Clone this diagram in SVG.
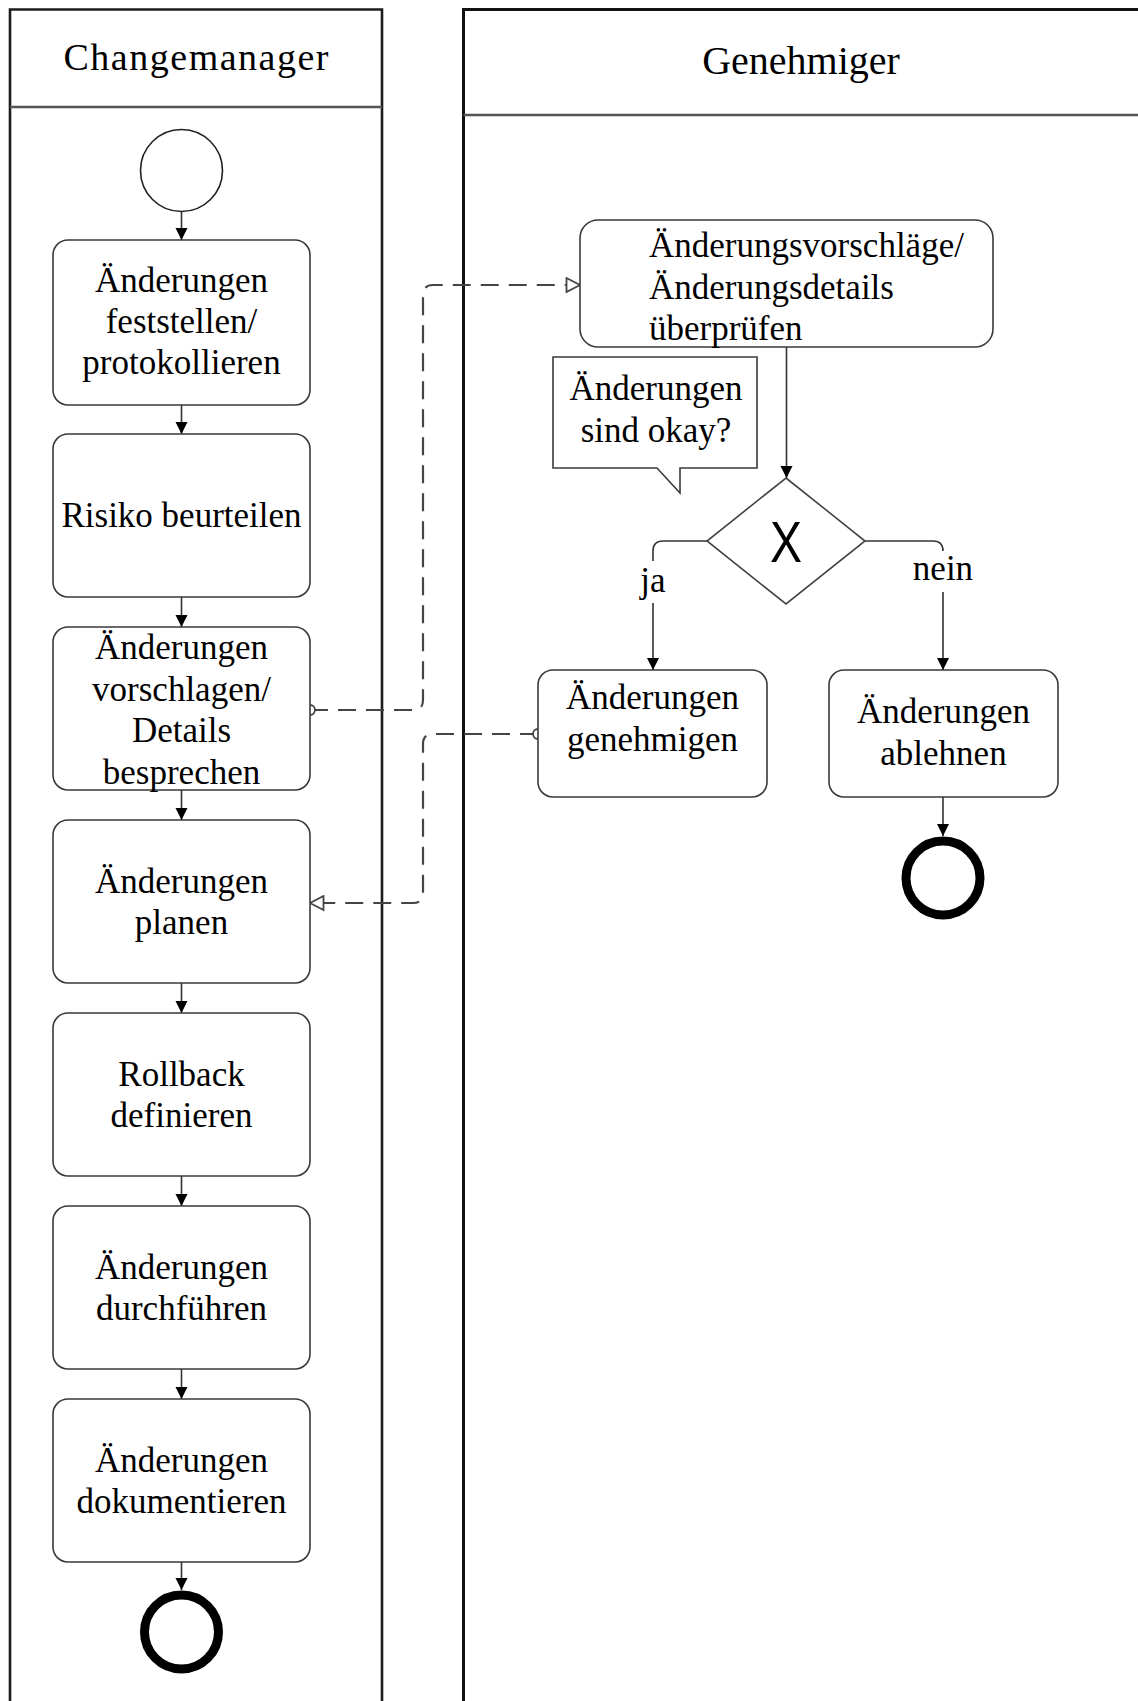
<svg xmlns="http://www.w3.org/2000/svg" width="1138" height="1701" viewBox="0 0 1138 1701">
  <defs>
    <style>
      .lane { fill: none; stroke: #1c1c1c; stroke-width: 2.6; }
      .lane-head { fill: none; stroke: #555; stroke-width: 2.6; }
      .task { fill: #fff; stroke: #3a3a3a; stroke-width: 1.6; }
      .note { fill: #fff; stroke: #3a3a3a; stroke-width: 1.6; }
      .gate { fill: #fff; stroke: #444; stroke-width: 1.6; }
      .start { fill: #fff; stroke: #222; stroke-width: 1.6; }
      .end { fill: #fff; stroke: #000; stroke-width: 9; }
      .flow { fill: none; stroke: #333; stroke-width: 1.6; marker-end: url(#arrow); }
      .msg { fill: none; stroke: #444; stroke-width: 2.2; stroke-dasharray: 18 10; marker-start: url(#msg-start); marker-end: url(#msg-end); }
      text { font-family: "Liberation Serif", "Times New Roman", serif; fill: #000; }
      .t { font-size: 35px; text-anchor: middle; }
      .tl { font-size: 35px; text-anchor: start; }
      .title { font-size: 38px; text-anchor: middle; }
      .gx { font-family: "Liberation Sans", Arial, sans-serif; font-size: 58px; text-anchor: middle; fill: #000; }
    </style>
    <marker id="arrow" markerUnits="userSpaceOnUse" markerWidth="13" markerHeight="13" refX="12" refY="6.5" orient="auto">
      <path d="M0,0.5 L12,6.5 L0,12.5 z" fill="#000"/>
    </marker>
    <marker id="msg-end" markerUnits="userSpaceOnUse" markerWidth="17" markerHeight="17" refX="15" refY="8.5" orient="auto">
      <path d="M1.5,1.5 L15,8.5 L1.5,15.5 z" fill="#fff" stroke="#444" stroke-width="1.8"/>
    </marker>
    <marker id="msg-start" markerUnits="userSpaceOnUse" markerWidth="14" markerHeight="14" refX="7" refY="7" orient="auto">
      <circle cx="7" cy="7" r="5" fill="#fff" stroke="#444" stroke-width="1.8"/>
    </marker>
  </defs>

  <rect width="1138" height="1701" fill="#fff"/>

  <!-- swimlanes -->
  <g id="lane-changemanager">
    <path class="lane" d="M10,1710 V9.5 H382 V1710"/>
    <path class="lane-head" d="M10,107 H382"/>
    <text class="title" x="196" y="70" textLength="265">Changemanager</text>
  </g>
  <g id="lane-genehmiger">
    <path class="lane" d="M463.5,1710 V9.5 H1140" style="stroke:#111;stroke-width:3"/>
    <path class="lane-head" d="M463.5,115 H1140"/>
    <text class="title" x="801" y="74" style="font-size:40px">Genehmiger</text>
  </g>

  <!-- connectors -->
  <g id="connectors">
    <path class="flow" d="M181.5,212 V240"/>
    <path class="flow" d="M181.5,405 V434"/>
    <path class="flow" d="M181.5,597 V627"/>
    <path class="flow" d="M181.5,790 V820"/>
    <path class="flow" d="M181.5,983 V1013"/>
    <path class="flow" d="M181.5,1176 V1206"/>
    <path class="flow" d="M181.5,1369 V1399"/>
    <path class="flow" d="M181.5,1562 V1590"/>
    <path class="flow" d="M786.5,347 V478"/>
    <path class="flow" d="M707,541 H663 Q653,541 653,551 V561 M653,603 V670"/>
    <path class="flow" d="M864,541 H933 Q943,541 943,551 M943,592 V670"/>
    <path class="flow" d="M943,797 V836"/>
    <path class="msg" d="M310,710 H413 Q423,710 423,700 V295 Q423,285 433,285 H580"/>
    <path class="msg" d="M538,734 H433 Q423,734 423,744 V893 Q423,903 413,903 H310"/>
    <text class="t" x="653" y="592">ja</text>
    <text class="t" x="943" y="580">nein</text>
  </g>

  <!-- Changemanager lane -->
  <g id="start">
    <circle class="start" cx="181.5" cy="170.5" r="41"/>
  </g>
  <g id="task-feststellen">
    <rect class="task" x="53" y="240" width="257" height="165" rx="15"/>
    <text class="t" x="181.5" y="292">Änderungen</text>
    <text class="t" x="181.5" y="333">feststellen/</text>
    <text class="t" x="181.5" y="374">protokollieren</text>
  </g>
  <g id="task-risiko">
    <rect class="task" x="53" y="434" width="257" height="163" rx="15"/>
    <text class="t" x="181.5" y="527">Risiko beurteilen</text>
  </g>
  <g id="task-vorschlagen">
    <rect class="task" x="53" y="627" width="257" height="163" rx="15"/>
    <text class="t" x="181.5" y="659">Änderungen</text>
    <text class="t" x="181.5" y="701">vorschlagen/</text>
    <text class="t" x="181.5" y="742">Details</text>
    <text class="t" x="181.5" y="784">besprechen</text>
  </g>
  <g id="task-planen">
    <rect class="task" x="53" y="820" width="257" height="163" rx="15"/>
    <text class="t" x="181.5" y="893">Änderungen</text>
    <text class="t" x="181.5" y="934">planen</text>
  </g>
  <g id="task-rollback">
    <rect class="task" x="53" y="1013" width="257" height="163" rx="15"/>
    <text class="t" x="181.5" y="1086">Rollback</text>
    <text class="t" x="181.5" y="1127">definieren</text>
  </g>
  <g id="task-durchfuehren">
    <rect class="task" x="53" y="1206" width="257" height="163" rx="15"/>
    <text class="t" x="181.5" y="1279">Änderungen</text>
    <text class="t" x="181.5" y="1320">durchführen</text>
  </g>
  <g id="task-dokumentieren">
    <rect class="task" x="53" y="1399" width="257" height="163" rx="15"/>
    <text class="t" x="181.5" y="1472">Änderungen</text>
    <text class="t" x="181.5" y="1513">dokumentieren</text>
  </g>
  <g id="end-changemanager">
    <circle class="end" cx="181.5" cy="1632" r="37"/>
  </g>

  <!-- Genehmiger lane -->
  <g id="task-pruefen">
    <rect class="task" x="580" y="220" width="413" height="127" rx="18"/>
    <text class="tl" x="649" y="257">Änderungsvorschläge/</text>
    <text class="tl" x="649" y="299">Änderungsdetails</text>
    <text class="tl" x="649" y="340">überprüfen</text>
  </g>
  <g id="note-okay">
    <path class="note" d="M553,357 H757 V468 H680 V493 L657,468 H553 Z"/>
    <text class="t" x="656" y="400">Änderungen</text>
    <text class="t" x="656" y="442">sind okay?</text>
  </g>
  <g id="gateway">
    <path class="gate" d="M786,478 L865,541 L786,604 L707,541 Z"/>
    <text class="gx" x="786" y="562" textLength="32" lengthAdjust="spacingAndGlyphs">X</text>
  </g>
  <g id="task-genehmigen">
    <rect class="task" x="538" y="670" width="229" height="127" rx="15"/>
    <text class="t" x="652.5" y="709">Änderungen</text>
    <text class="t" x="652.5" y="751">genehmigen</text>
  </g>
  <g id="task-ablehnen">
    <rect class="task" x="829" y="670" width="229" height="127" rx="15"/>
    <text class="t" x="943.5" y="723">Änderungen</text>
    <text class="t" x="943.5" y="765">ablehnen</text>
  </g>
  <g id="end-genehmiger">
    <circle class="end" cx="943" cy="878" r="37"/>
  </g>
</svg>
